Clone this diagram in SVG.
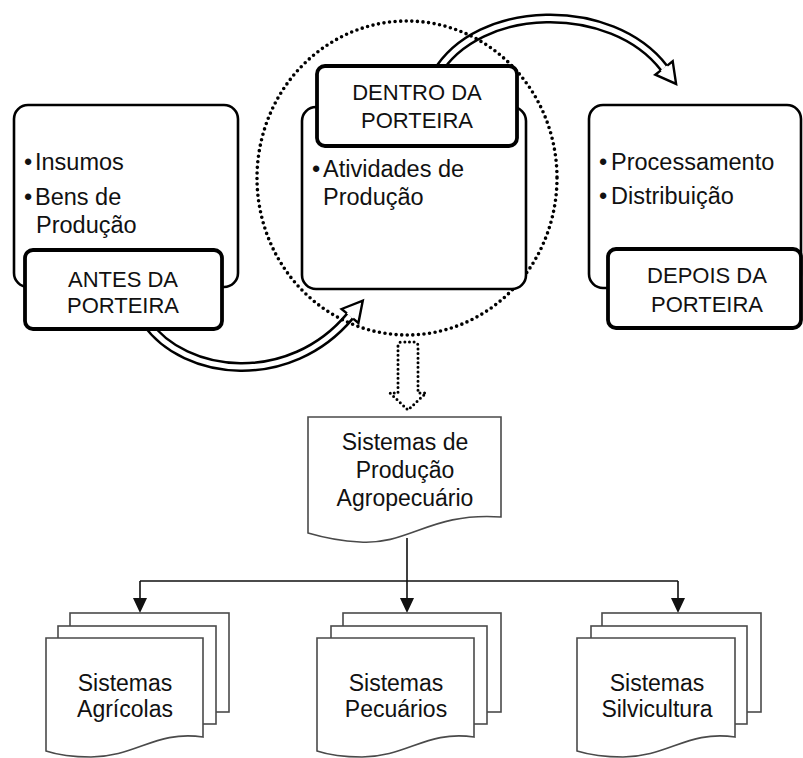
<svg xmlns="http://www.w3.org/2000/svg" width="803" height="758" viewBox="0 0 803 758">
<style>
  .outer{fill:#fff;stroke:#000;stroke-width:2.6}
  .label{fill:#fff;stroke:#000;stroke-width:3.8}
  .t{font-family:"Liberation Sans",Arial,sans-serif;fill:#111}
  .bul{font-size:23.5px}
  .lab{font-size:22px;text-anchor:middle}
  .fc{fill:#fff;stroke:#4a4a4a;stroke-width:1.6}
  .ft{font-family:"Liberation Sans",Arial,sans-serif;font-size:23px;fill:#111;text-anchor:middle}
  .bandO{fill:none;stroke:#000;stroke-width:10}
  .bandI{fill:none;stroke:#fff;stroke-width:5}
  .head{fill:#fff;stroke:#000;stroke-width:2.4;stroke-linejoin:miter}
  .dots{fill:none;stroke:#000;stroke-width:3.6;stroke-dasharray:0 5.6;stroke-linecap:round}
  .conn{fill:none;stroke:#111;stroke-width:1.6}
</style>
<g id="connectors">
  <!-- curved arrow ANTES -> DENTRO -->
  <path class="bandO" d="M146,322 C185,378 290,388 350,316"/>
  <path class="bandI" d="M146,322 C185,378 290,388 350,316"/>
  <polyline class="head" points="353.1,318.6 358.4,323.0 362.8,300.6 341.6,309.0 346.9,313.4"/>
  <!-- curved arrow DENTRO -> DEPOIS -->
  <path class="bandO" d="M436,74 C478,2 612,0 664,68"/>
  <path class="bandI" d="M436,74 C478,2 612,0 664,68"/>
  <polyline class="head" points="667.2,65.6 672.7,61.3 676.1,83.9 655.3,74.7 660.8,70.4"/>
  <!-- dotted block arrow down -->
  <path fill="none" stroke="#000" stroke-width="3" stroke-dasharray="0 4.6" stroke-linecap="round" d="M398,346 Q398,342 402,342 H414 Q418,342 418,346 V393 H426 L408,410 L390,393 H398 Z"/>
  <!-- tree connectors -->
  <path class="conn" d="M407,538 V581 M140,581 H678 M140,581 V600 M407,581 V600 M678,581 V600"/>
  <polygon points="133,598 147,598 140,613" fill="#111"/>
  <polygon points="400,598 414,598 407,613" fill="#111"/>
  <polygon points="671,598 685,598 678,613" fill="#111"/>
</g>
<ellipse id="dentro-circle" class="dots" cx="407" cy="178" rx="150" ry="157"/>
<g id="antes">
  <rect class="outer" x="14" y="105" width="224" height="182" rx="14"/>
  <text class="t bul" y="170"><tspan x="24">•</tspan><tspan x="35">Insumos</tspan></text>
  <text class="t bul" y="205"><tspan x="24">•</tspan><tspan x="35">Bens de</tspan></text>
  <text class="t bul" x="36" y="233">Produção</text>
  <rect class="label" x="25" y="250" width="197" height="79" rx="8"/>
  <text class="t lab" x="123" y="287">ANTES DA</text>
  <text class="t lab" x="123" y="313">PORTEIRA</text>
</g>
<g id="dentro">
  <rect class="outer" x="302" y="107" width="224" height="182" rx="14"/>
  <text class="t bul" y="177"><tspan x="312">•</tspan><tspan x="323">Atividades de</tspan></text>
  <text class="t bul" x="323" y="205">Produção</text>
  <rect class="label" x="317" y="66" width="200" height="80" rx="8"/>
  <text class="t lab" x="417" y="100">DENTRO DA</text>
  <text class="t lab" x="417" y="128">PORTEIRA</text>
</g>
<g id="depois">
  <rect class="outer" x="589" y="105" width="212" height="183" rx="14"/>
  <text class="t bul" y="170"><tspan x="599">•</tspan><tspan x="611">Processamento</tspan></text>
  <text class="t bul" y="204"><tspan x="599">•</tspan><tspan x="611">Distribuição</tspan></text>
  <rect class="label" x="608" y="249" width="193" height="79" rx="8"/>
  <text class="t lab" x="707" y="283">DEPOIS DA</text>
  <text class="t lab" x="707" y="312">PORTEIRA</text>
</g>
<g id="sistemas-producao">
  <path class="fc" d="M308,533 V417 H501 V517 C430,512 410,545 360,542 C340,541 325,538 308,533 Z"/>
  <text class="ft" x="405" y="450">Sistemas de</text>
  <text class="ft" x="405" y="478">Produção</text>
  <text class="ft" x="405" y="506">Agropecuário</text>
</g>
<g id="agricolas">
  <rect class="fc" x="70" y="613" width="159" height="99"/>
  <rect class="fc" x="58" y="626" width="158" height="98"/>
  <path class="fc" d="M46,751 V638 H203 V737 C156,730 136,757 91,757 C71,757 58,755 46,751 Z"/>
  <text class="ft" x="125" y="691">Sistemas</text>
  <text class="ft" x="125" y="717">Agrícolas</text>
</g>
<g id="pecuarios">
  <rect class="fc" x="343" y="613" width="158" height="99"/>
  <rect class="fc" x="331" y="626" width="156" height="98"/>
  <path class="fc" d="M317,751 V638 H474 V737 C427,730 407,757 362,757 C342,757 329,755 317,751 Z"/>
  <text class="ft" x="396" y="691">Sistemas</text>
  <text class="ft" x="396" y="717">Pecuários</text>
</g>
<g id="silvicultura">
  <rect class="fc" x="602" y="613" width="159" height="99"/>
  <rect class="fc" x="591" y="626" width="156" height="98"/>
  <path class="fc" d="M577,751 V638 H735 V737 C688,730 668,757 623,757 C603,757 590,755 577,751 Z"/>
  <text class="ft" x="657" y="691">Sistemas</text>
  <text class="ft" x="657" y="717">Silvicultura</text>
</g>
</svg>
